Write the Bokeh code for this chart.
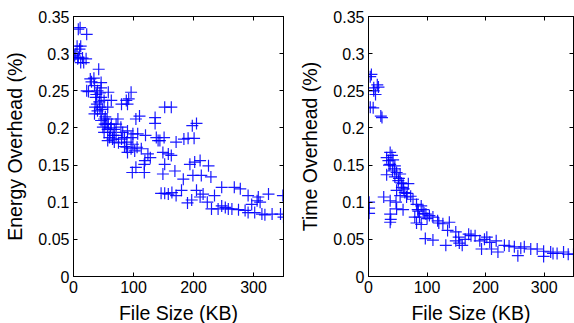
from bokeh.plotting import figure
from bokeh.layouts import row
from bokeh.models import LinearAxis, FixedTicker, Range1d
from bokeh.embed import file_html
from bokeh.resources import INLINE

# ---- data ----
e_size = [8, 11, 22, 6, 12, 10, 2, 8, 15, 21, 12, 17, 7, 4,
          42, 28, 34, 46, 22, 25, 40, 46, 35, 58, 37, 46, 51, 63, 39, 44,
          57, 35, 46, 40, 51, 46, 56, 54, 63, 49, 57, 51, 61, 68, 60, 71,
          57, 68, 74, 71, 79, 82, 90, 99, 85, 96, 89, 99, 88, 96, 90, 102,
          88, 92, 96, 90, 80, 104, 110, 107, 106, 113, 98, 104, 118, 120,
          124, 128, 119, 118, 136, 136, 138, 144, 141, 151, 152, 163, 149,
          158, 152, 149, 163, 169, 152, 146, 158, 164, 171, 180, 171, 184,
          191, 201, 198, 205, 194, 202, 211, 225, 183, 199, 213, 229, 190,
          197, 205, 211, 216, 223, 235, 247, 268, 278, 291, 308, 325, 349,
          230, 241, 253, 264, 275, 286, 297, 306, 311, 291, 302, 314, 319,
          331, 345, 350, 247, 258,
          30, 38, 43, 48, 53, 58, 62, 66, 52, 44, 36, 65, 75, 80, 85]
e_overhead = [0.333, 0.335, 0.326, 0.310, 0.310, 0.306, 0.297, 0.295, 0.294, 0.293, 0.288, 0.288, 0.293, 0.300,
              0.279, 0.266, 0.267, 0.261, 0.250, 0.249, 0.250, 0.254, 0.257, 0.248, 0.241, 0.241, 0.237, 0.237, 0.232, 0.228,
              0.228, 0.219, 0.219, 0.223, 0.212, 0.210, 0.212, 0.205, 0.205, 0.201, 0.198, 0.194, 0.194, 0.198, 0.187, 0.190,
              0.183, 0.181, 0.212, 0.205, 0.201, 0.194, 0.196, 0.192, 0.187, 0.187, 0.181, 0.178, 0.174, 0.172, 0.167, 0.169,
              0.237, 0.239, 0.248, 0.232, 0.232, 0.212, 0.216, 0.192, 0.174, 0.172, 0.140, 0.147, 0.140, 0.190,
              0.165, 0.160, 0.156, 0.151, 0.214, 0.206, 0.187, 0.183, 0.183, 0.187, 0.228, 0.228, 0.167,
              0.165, 0.151, 0.138, 0.163, 0.142, 0.112, 0.112, 0.111, 0.113, 0.109, 0.116, 0.181, 0.185,
              0.186, 0.186, 0.203, 0.206, 0.151, 0.154, 0.156, 0.149, 0.131, 0.136, 0.136, 0.134, 0.099,
              0.103, 0.116, 0.107, 0.111, 0.100, 0.109, 0.120, 0.120, 0.118, 0.109, 0.107, 0.111, 0.109,
              0.091, 0.091, 0.093, 0.091, 0.090, 0.089, 0.097, 0.102, 0.100, 0.086, 0.086, 0.084, 0.083,
              0.084, 0.084, 0.080, 0.095, 0.091,
              0.262, 0.245, 0.235, 0.225, 0.215, 0.205, 0.200, 0.190, 0.205, 0.247, 0.228, 0.185, 0.180, 0.185, 0.175]

t_size = [5, 3, 9, 17, 12, 15, 8, 3, 21, 23, 1, 1, 1,
          37, 40, 34, 42, 31, 37, 45, 31, 41, 48, 45, 54, 51, 59, 68, 57,
          48, 62, 54, 65, 76, 26, 37, 47, 48, 59, 37, 38, 37, 82, 90, 93,
          84, 79, 87, 98, 104, 82, 90, 110, 118, 127, 138, 135, 149, 154,
          149, 160, 171, 182, 190, 202, 207, 218, 193, 210, 221, 97, 110,
          132, 232, 249, 255, 266, 277, 288, 299, 299, 311, 322, 341, 333,
          35, 44, 52, 56, 60, 66, 72, 85, 95, 100, 120, 155, 165, 175, 198,
          240, 260, 315, 350, 9]
t_overhead = [0.272, 0.269, 0.254, 0.255, 0.245, 0.258, 0.227, 0.228, 0.216, 0.214, 0.100, 0.092, 0.085,
              0.167, 0.163, 0.156, 0.157, 0.160, 0.151, 0.149, 0.137, 0.142, 0.140, 0.134, 0.138, 0.129, 0.125, 0.125, 0.120,
              0.116, 0.113, 0.109, 0.107, 0.104, 0.107, 0.102, 0.100, 0.091, 0.090, 0.084, 0.077, 0.073, 0.097, 0.095, 0.090,
              0.090, 0.080, 0.080, 0.084, 0.082, 0.072, 0.070, 0.080, 0.075, 0.071, 0.073, 0.062, 0.060, 0.053,
              0.048, 0.042, 0.057, 0.055, 0.048, 0.053, 0.046, 0.048, 0.037, 0.037, 0.033, 0.051, 0.049,
              0.042, 0.042, 0.040, 0.028, 0.040, 0.037, 0.037, 0.034, 0.027, 0.033, 0.031, 0.030, 0.033,
              0.150, 0.145, 0.132, 0.126, 0.118, 0.112, 0.108, 0.088, 0.085, 0.078, 0.072, 0.045, 0.050, 0.055, 0.050,
              0.041, 0.038, 0.031, 0.030, 0.250]

y_ticks = [0, 0.05, 0.1, 0.15, 0.2, 0.25, 0.3, 0.35]
y_tick_labels = ["0", "0.05", "0.1", "0.15", "0.2", "0.25", "0.3", "0.35"]
x_ticks = [0, 100, 200, 300]
x_tick_labels = ["0", "100", "200", "300"]

FONT = "Liberation Sans"
BLUE = "#0000FF"


def style_axis(ax, ticks, labels=None, show_labels=True, label_standoff=7):
    ax.ticker = FixedTicker(ticks=ticks)
    ax.axis_line_color = "black"
    ax.axis_line_width = 1
    ax.major_tick_line_color = "black"
    ax.major_tick_in = 4
    ax.major_tick_out = 0
    ax.minor_tick_line_color = None
    if show_labels:
        ax.major_label_overrides = {t: l for t, l in zip(ticks, labels)}
        ax.major_label_text_font = FONT
        ax.major_label_text_font_size = "16px"
        ax.major_label_text_color = "black"
        ax.major_label_standoff = 4
        ax.axis_label_text_font = FONT
        ax.axis_label_text_font_size = "19.5px"
        ax.axis_label_text_font_style = "normal"
        ax.axis_label_text_color = "black"
        ax.axis_label_standoff = label_standoff
    else:
        ax.major_label_text_font_size = "1px"
        ax.major_label_text_color = None
        ax.major_label_standoff = 0


def make(xs, ys, ylabel, left_border, frame_w, right_border):
    p = figure(output_backend="svg", toolbar_location=None,
               frame_width=frame_w, frame_height=260,
               min_border_left=left_border, min_border_right=right_border,
               min_border_top=16, min_border_bottom=47,
               x_range=Range1d(0, 350), y_range=Range1d(0, 0.35),
               x_axis_label="File Size (KB)", y_axis_label=ylabel)
    p.xgrid.grid_line_color = None
    p.ygrid.grid_line_color = None
    p.outline_line_color = "black"
    p.outline_line_width = 1
    p.background_fill_color = "white"
    p.border_fill_color = "white"
    style_axis(p.xaxis[0], x_ticks, x_tick_labels, label_standoff=6)
    style_axis(p.yaxis[0], y_ticks, y_tick_labels, label_standoff=9)
    top = LinearAxis()
    style_axis(top, x_ticks, show_labels=False)
    p.add_layout(top, "above")
    rt = LinearAxis()
    style_axis(rt, y_ticks, show_labels=False)
    p.add_layout(rt, "right")
    p.scatter(xs, ys, marker="cross", size=12, line_color=BLUE,
              line_width=1.2, line_alpha=0.9)
    return p


p1 = make(e_size, e_overhead, "Energy Overhead (%)", 73, 210, 7)
p2 = make(t_size, t_overhead, "Time Overhead (%)", 78, 205, 1)

p = row(p1, p2, spacing=0)
open("out.html", "w").write(file_html(p, INLINE))
